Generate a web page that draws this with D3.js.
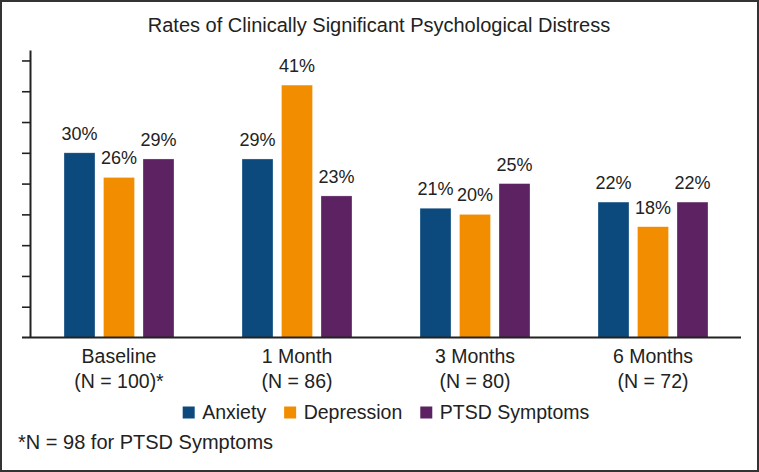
<!DOCTYPE html>
<html>
<head>
<meta charset="utf-8">
<script src="https://cdn.jsdelivr.net/npm/d3@7"></script>
<style>
  html, body { margin: 0; padding: 0; background: #fff; }
  svg { display: block; font-family: "Liberation Sans", Arial, Helvetica, sans-serif; }
</style>
</head>
<body>
<svg id="chart" width="759" height="472"></svg>
<script>
const title = "Rates of Clinically Significant Psychological Distress";
const categories = ["Baseline", "1 Month", "3 Months", "6 Months"];
const sampleLabels = ["(N = 100)*", "(N = 86)", "(N = 80)", "(N = 72)"];
const seriesNames = ["Anxiety", "Depression", "PTSD Symptoms"];
const anxiety = [30, 29, 21, 22];
const depression = [26, 41, 20, 18];
const ptsd = [29, 23, 25, 22];
const yTicks = [5, 10, 15, 20, 25, 30, 35, 40, 45];
const footnote = "*N = 98 for PTSD Symptoms";
const colors = ["#0c4a7e", "#f28d00", "#5c2262"];

const seriesValues = [anxiety, depression, ptsd];
const data = categories.map((c, i) => ({
  category: c,
  values: seriesNames.map((s, j) => ({ series: s, value: seriesValues[j][i] }))
}));

const svg = d3.select("#chart");
const W = 759, H = 472;

// border
svg.append("rect").attr("x", 1).attr("y", 1).attr("width", W - 2).attr("height", H - 2)
  .attr("fill", "#fff").attr("stroke", "#333").attr("stroke-width", 2);

const plotLeft = 30, plotRight = 742, baseY = 337.5, topY = 50;

const x0 = d3.scaleBand().domain(categories).range([plotLeft, plotRight]).paddingInner(0).paddingOuter(0);
const groupW = 110;
const x1 = d3.scaleBand().domain(seriesNames).range([0, groupW]).paddingInner(0.215).paddingOuter(0);
const y = d3.scaleLinear().domain([0, 46.7]).range([baseY, topY]);
const color = d3.scaleOrdinal().domain(seriesNames).range(colors);

// title
svg.append("text").attr("x", 379).attr("y", 31.5).attr("text-anchor", "middle")
  .attr("font-size", 20).attr("fill", "#222").text(title);

// bars
const groups = svg.append("g").selectAll("g").data(data).join("g")
  .attr("transform", d => `translate(${x0(d.category) + (x0.bandwidth() - groupW) / 2},0)`);

groups.selectAll("rect").data(d => d.values).join("rect")
  .attr("x", d => x1(d.series))
  .attr("y", d => y(d.value))
  .attr("width", x1.bandwidth())
  .attr("height", d => y(0) - y(d.value))
  .attr("fill", d => color(d.series))
  .attr("stroke", "#ffffff").attr("stroke-opacity", 0.5).attr("stroke-width", 0.6);

groups.selectAll("text").data(d => d.values).join("text")
  .attr("x", d => x1(d.series) + x1.bandwidth() / 2)
  .attr("y", d => y(d.value) - 13)
  .attr("text-anchor", "middle")
  .attr("font-size", 18).attr("fill", "#222")
  .text(d => d.value + "%");

// y axis
const yAxis = d3.axisLeft(y).tickValues(yTicks).tickFormat("").tickSize(8).tickSizeOuter(0);
const gy = svg.append("g").attr("transform", `translate(${plotLeft},0)`).call(yAxis);
gy.select(".domain").attr("stroke", "#222").attr("stroke-width", 2);
gy.selectAll(".tick line").attr("stroke", "#222").attr("stroke-width", 1.6);

// x axis
const xAxis = d3.axisBottom(x0).tickSize(0).tickFormat("");
const gx = svg.append("g").attr("transform", `translate(0,${baseY})`).call(xAxis);
gx.select(".domain").remove();
svg.append("line").attr("x1", 22).attr("x2", plotRight - 1).attr("y1", baseY).attr("y2", baseY)
  .attr("stroke", "#222").attr("stroke-width", 2);

gx.selectAll(".tick").each(function(d, i) {
  const g = d3.select(this);
  g.append("text").attr("y", 363 - baseY).attr("text-anchor", "middle")
    .attr("font-size", 19.5).attr("fill", "#222").text(d);
  g.append("text").attr("y", 387.5 - baseY).attr("text-anchor", "middle")
    .attr("font-size", 19.5).attr("fill", "#222").text(sampleLabels[i]);
});

// legend
const legend = svg.append("g");
let lx = 0;
const sq = 12, gapSq = 7.5, gapItem = 18;
seriesNames.forEach((s, i) => {
  const item = legend.append("g").attr("transform", `translate(${lx},0)`);
  item.append("rect").attr("x", 0).attr("y", 406.5).attr("width", sq).attr("height", sq).attr("fill", color(s));
  const t = item.append("text").attr("x", sq + gapSq).attr("y", 418.5)
    .attr("font-size", 19.5).attr("fill", "#222").text(s);
  lx += sq + gapSq + t.node().getComputedTextLength() + gapItem;
});
const legendW = lx - gapItem;
legend.attr("transform", `translate(${(plotLeft + plotRight) / 2 - legendW / 2},0)`);

// footnote
svg.append("text").attr("x", 18).attr("y", 449).attr("font-size", 20).attr("fill", "#222").text(footnote);
</script>
</body>
</html>
